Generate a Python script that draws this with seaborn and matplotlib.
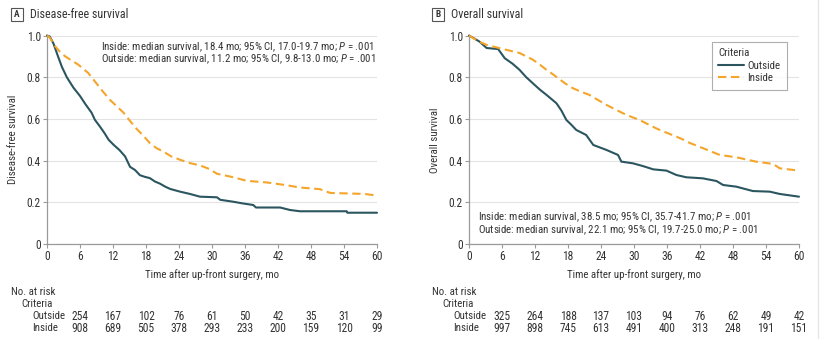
import numpy as np
import pandas as pd
import matplotlib
matplotlib.use("Agg")
import matplotlib.pyplot as plt
from matplotlib import font_manager as fm
from matplotlib.lines import Line2D
from matplotlib.patches import Rectangle
import seaborn as sns

sns.set_theme(style="white")

# pick a narrow/condensed face if one is installed
narrow = None
pref = ["liberation sans narrow", "roboto condensed", "open sans condensed",
        "noto sans condensed", "dejavu sans condensed"]
cands = []
for f in fm.fontManager.ttflist:
    nm = f.name.lower()
    fn = f.fname.lower()
    st = str(f.stretch).lower()
    if f.style != "normal":
        continue
    if f.weight not in (400, "normal", "regular"):
        continue
    if "narrow" in nm or "condensed" in nm or "condensed" in fn or "narrow" in fn or "condensed" in st:
        if "semi" in fn or "extra" in fn or "ultra" in fn:
            continue
        cands.append(f)
if cands:
    def rank(f):
        key = (f.name + " " + f.fname).lower()
        for i, p in enumerate(pref):
            if p.split()[0] in key:
                return i
        return 99
    cands.sort(key=rank)
    narrow = cands[0]

if narrow is not None:
    plt.rcParams['font.family'] = [narrow.name, 'DejaVu Sans']
    if "condensed" in str(narrow.stretch).lower() or "condensed" in narrow.fname.lower():
        plt.rcParams['font.stretch'] = 'condensed'
else:
    plt.rcParams['font.family'] = ['Roboto', 'DejaVu Sans']
plt.rcParams['mathtext.fontset'] = 'custom'
plt.rcParams['mathtext.it'] = plt.rcParams['font.family'][0] + ':italic'
plt.rcParams['mathtext.rm'] = plt.rcParams['font.family'][0]

# ---------------- data ----------------
dfs_out_t = [0, 0.5, 1.2, 2.0, 2.7, 3.6, 4.8, 6.0, 7.0, 8.1, 8.7, 9.6, 10.5, 11.2, 12.1, 13.2, 14.2, 15.1, 16.0, 16.9, 17.8, 18.7, 19.6, 20.5, 21.5, 22.4, 24.2, 26.0, 27.8, 30.9, 31.5, 33.8, 35.5, 37.5, 38.0, 42.4, 44.2, 46.0, 54.5, 54.6, 60.0]
dfs_out_v = [1.0, 0.995, 0.96, 0.90, 0.85, 0.80, 0.75, 0.71, 0.67, 0.63, 0.596, 0.564, 0.53, 0.50, 0.476, 0.45, 0.42, 0.37, 0.355, 0.33, 0.322, 0.316, 0.30, 0.29, 0.275, 0.264, 0.251, 0.24, 0.227, 0.224, 0.212, 0.203, 0.195, 0.187, 0.175, 0.175, 0.163, 0.157, 0.157, 0.150, 0.150]

dfs_in_t = [0, 0.5, 1.45, 2.4, 3.3, 4.5, 5.7, 7.5, 9.0, 10.2, 11.5, 12.7, 13.9, 15.1, 16.3, 17.5, 18.7, 19.9, 21.1, 22.6, 24.2, 26.0, 27.8, 29.5, 30.9, 33.9, 36.3, 40.0, 43.0, 46.0, 49.6, 51.5, 57.8, 60.0]
dfs_in_v = [1.0, 0.99, 0.95, 0.92, 0.90, 0.88, 0.86, 0.82, 0.77, 0.73, 0.69, 0.66, 0.63, 0.59, 0.552, 0.52, 0.484, 0.46, 0.444, 0.42, 0.404, 0.388, 0.377, 0.36, 0.337, 0.32, 0.303, 0.295, 0.284, 0.271, 0.263, 0.245, 0.24, 0.232]

os_out_t = [0, 1.0, 1.95, 3.2, 5.3, 6.5, 7.9, 9.2, 10.4, 11.6, 12.9, 14.1, 15.0, 15.9, 16.8, 17.7, 18.6, 19.5, 21.3, 22.6, 25.0, 27.1, 27.7, 29.8, 31.6, 33.5, 35.9, 37.7, 39.5, 42.5, 45.0, 46.2, 48.6, 51.6, 54.7, 56.5, 60.0]
os_out_v = [1.0, 0.985, 0.97, 0.94, 0.935, 0.891, 0.865, 0.835, 0.80, 0.771, 0.74, 0.715, 0.695, 0.675, 0.64, 0.595, 0.572, 0.547, 0.523, 0.475, 0.451, 0.427, 0.395, 0.387, 0.374, 0.358, 0.352, 0.331, 0.32, 0.315, 0.302, 0.283, 0.275, 0.254, 0.251, 0.24, 0.227]

os_in_t = [0, 1.5, 3.2, 6.2, 9.2, 11.6, 12.9, 14.1, 15.2, 16.2, 17.5, 18.9, 20.4, 21.9, 23.5, 25.0, 26.5, 28.0, 29.5, 31.0, 32.5, 34.0, 35.8, 37.7, 39.0, 40.2, 42.5, 45.6, 48.6, 52.2, 55.3, 56.5, 60.0]
os_in_v = [1.0, 0.975, 0.955, 0.935, 0.916, 0.884, 0.86, 0.835, 0.815, 0.795, 0.77, 0.747, 0.73, 0.715, 0.69, 0.667, 0.647, 0.627, 0.61, 0.595, 0.575, 0.555, 0.535, 0.515, 0.50, 0.484, 0.46, 0.427, 0.416, 0.395, 0.384, 0.363, 0.352]

risk_times = [6, 12, 18, 24, 30, 36, 42, 48, 54, 60]
dfs_risk_out = [254, 167, 102, 76, 61, 50, 42, 35, 31, 29]
dfs_risk_in = [908, 689, 505, 378, 293, 233, 200, 159, 120, 99]
os_risk_out = [325, 264, 188, 137, 103, 94, 76, 62, 49, 42]
os_risk_in = [997, 898, 745, 613, 491, 400, 313, 248, 191, 151]

xticks = [0, 6, 12, 18, 24, 30, 36, 42, 48, 54, 60]
yticks = [0, 0.2, 0.4, 0.6, 0.8, 1.0]
ytick_labels = ["0", "0.2", "0.4", "0.6", "0.8", "1.0"]

dfs_notes = ["Inside: median survival, 18.4 mo; 95% CI, 17.0-19.7 mo; $\\it{P}$ = .001",
             "Outside: median survival, 11.2 mo; 95% CI, 9.8-13.0 mo; $\\it{P}$ = .001"]
os_notes = ["Inside: median survival, 38.5 mo; 95% CI, 35.7-41.7 mo; $\\it{P}$ = .001",
            "Outside: median survival, 22.1 mo; 95% CI, 19.7-25.0 mo; $\\it{P}$ = .001"]

OUT_C = "#2b5660"
IN_C = "#f5a52a"
TXT = "#333333"

W, H = 821, 339
fig = plt.figure(figsize=(W / 100, H / 100), dpi=100)

# fit font size so the note line has the reference width (~273 px)
probe = fig.text(0, 0, dfs_notes[0], fontsize=8)
rend = fig.canvas.get_renderer()
wpx = probe.get_window_extent(rend).width
probe.remove()
FS = float(np.clip(8 * 273.0 / wpx, 6.3, 9.0))
FN = FS * 1.06  # numbers (ticks, risk table)


def px_axes(l, r, t, b):
    return fig.add_axes([l / W, 1 - b / H, (r - l) / W, (b - t) / H])


def panel(ax, out_t, out_v, in_t, in_v, ylabel):
    d_out = pd.DataFrame({"t": out_t, "s": out_v})
    d_in = pd.DataFrame({"t": in_t, "s": in_v})
    sns.lineplot(data=d_out, x="t", y="s", ax=ax, color=OUT_C, lw=1.5,
                 label="Outside", zorder=3)
    sns.lineplot(data=d_in, x="t", y="s", ax=ax, color=IN_C, lw=1.5,
                 label="Inside", zorder=3, linestyle=(0, (4, 2.2)))
    ax.set_xlim(0, 60)
    ax.set_ylim(0, 1.0)
    ax.set_xticks(xticks)
    ax.set_xticklabels([str(x) for x in xticks], fontsize=FN, color=TXT)
    ax.set_yticks(yticks)
    ax.set_yticklabels(ytick_labels, fontsize=FN, color=TXT)
    ax.yaxis.grid(True, color="#e3e3e3", lw=0.8)
    ax.xaxis.grid(False)
    for s in ["top", "right"]:
        ax.spines[s].set_visible(False)
    for s in ["left", "bottom"]:
        ax.spines[s].set_color("#9a9a9a")
        ax.spines[s].set_linewidth(0.9)
    ax.tick_params(axis="both", which="both", direction="out", length=3,
                   width=0.8, color="#9a9a9a", pad=1.5, bottom=True, left=True)
    ax.set_xlabel("Time after up-front surgery, mo", fontsize=FS, color=TXT, labelpad=4)
    ax.set_ylabel(ylabel, fontsize=FS, color=TXT, labelpad=6)
    for ln in ax.get_lines():
        ln.set_clip_on(False)


def header(x_box, letter, title):
    fig.patches.append(Rectangle((x_box / W, 1 - 21 / H), 12 / W, 13 / H,
                                 transform=fig.transFigure, fill=False,
                                 edgecolor="#555555", lw=0.8))
    fig.text((x_box + 6) / W, 1 - 14.5 / H, letter, ha="center", va="center",
             fontsize=FS * 0.85, fontweight="bold", color=TXT)
    fig.text((x_box + 19) / W, 1 - 14.5 / H, title, ha="left", va="center",
             fontsize=FS * 1.1, color=TXT)


def risk_table(x0, ax_l, ax_r, out_vals, in_vals):
    fig.text(x0 / W, 1 - 292 / H, "No. at risk", ha="left", va="center", fontsize=FS, color=TXT)
    fig.text((x0 + 10) / W, 1 - 304 / H, "Criteria", ha="left", va="center", fontsize=FS, color=TXT)
    fig.text((x0 + 21) / W, 1 - 316 / H, "Outside", ha="left", va="center", fontsize=FS, color=TXT)
    fig.text((x0 + 21) / W, 1 - 328 / H, "Inside", ha="left", va="center", fontsize=FS, color=TXT)
    for t, o, i in zip(risk_times, out_vals, in_vals):
        xp = ax_l + (ax_r - ax_l) * t / 60
        fig.text(xp / W, 1 - 316 / H, str(o), ha="center", va="center", fontsize=FN, color=TXT)
        fig.text(xp / W, 1 - 328 / H, str(i), ha="center", va="center", fontsize=FN, color=TXT)


# Panel A
axA = px_axes(47, 377, 35.5, 244)
panel(axA, dfs_out_t, dfs_out_v, dfs_in_t, dfs_in_v, "Disease-free survival")
axA.get_legend().remove()
axA.text(0.164, 0.944, dfs_notes[0], transform=axA.transAxes, ha="left", va="center",
         fontsize=FS, color=TXT)
axA.text(0.164, 0.885, dfs_notes[1], transform=axA.transAxes, ha="left", va="center",
         fontsize=FS, color=TXT)
header(11, "A", "Disease-free survival")
risk_table(11, 47, 377, dfs_risk_out, dfs_risk_in)

# Panel B
axB = px_axes(469, 799, 35.5, 244)
panel(axB, os_out_t, os_out_v, os_in_t, os_in_v, "Overall survival")
leg = axB.legend(title="Criteria", loc="upper right", bbox_to_anchor=(0.964, 0.969),
                 borderaxespad=0.0,
                 fontsize=FS, title_fontsize=FS, frameon=True, fancybox=False,
                 handlelength=2.4, handletextpad=0.3, borderpad=0.6,
                 labelspacing=0.22, alignment="left")
leg.get_frame().set_edgecolor("#9a9a9a")
leg.get_frame().set_linewidth(0.8)
for txt in leg.get_texts():
    txt.set_color(TXT)
leg.get_title().set_color(TXT)
axB.text(0.028, 0.127, os_notes[0], transform=axB.transAxes, ha="left", va="center",
         fontsize=FS, color=TXT)
axB.text(0.028, 0.066, os_notes[1], transform=axB.transAxes, ha="left", va="center",
         fontsize=FS, color=TXT)
header(432, "B", "Overall survival")
risk_table(432, 469, 799, os_risk_out, os_risk_in)

fig.add_artist(Line2D([818 / W, 818 / W], [0, 1], transform=fig.transFigure,
                      color="#e6e6e6", lw=1))

fig.savefig("out.png", dpi=100, facecolor="white")
